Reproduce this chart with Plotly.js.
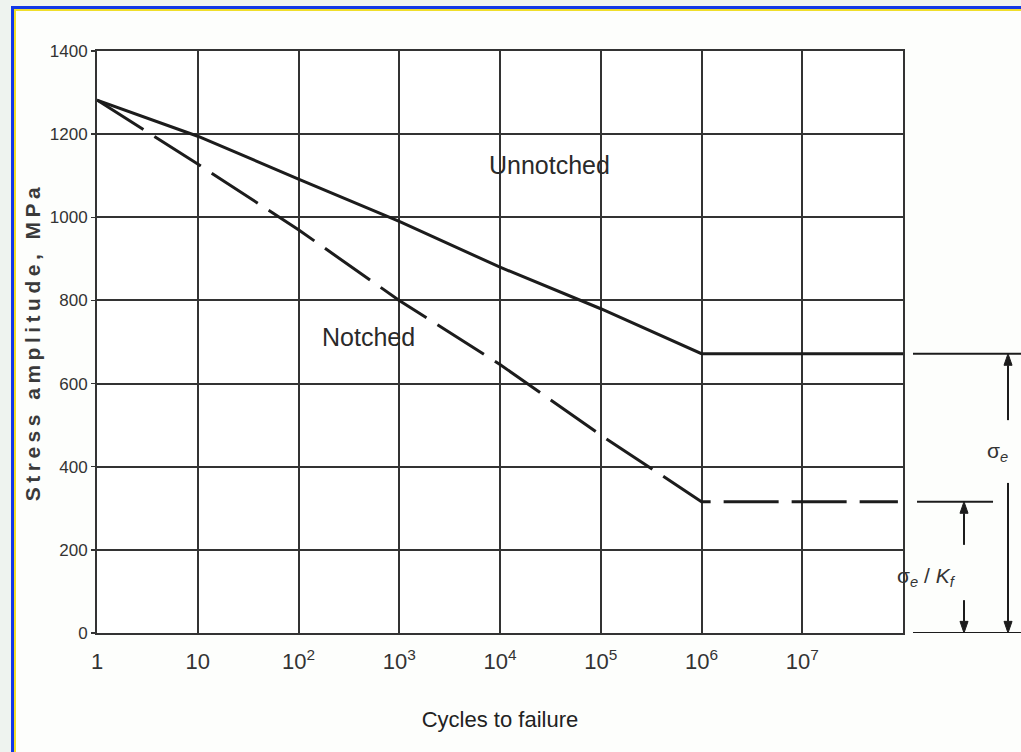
<!DOCTYPE html>
<html><head><meta charset="utf-8">
<script src="https://cdn.plot.ly/plotly-3.0.1.min.js"></script>
<style>
html,body{margin:0;padding:0;background:#eef3ef;width:1021px;height:752px;overflow:hidden}
#frame{position:absolute;left:11px;top:6px;width:1030px;height:760px;border-left:3px solid #1238e6;border-top:3px solid #1238e6;background:#fdfefc;box-shadow:inset 2px 2px 0 #f0de2a;}
#chart{position:absolute;left:0;top:0;width:1021px;height:752px}
.ytitle{letter-spacing:4.5px}
</style></head>
<body><div id="frame"></div><div id="chart"></div>
<script>
// Data
const unnotchedCycles = [1, 10, 100, 1e3, 1e4, 1e5, 1e6, 1e8];
const unnotchedStress = [1282, 1195, 1092, 990, 880, 780, 672, 672];
const notchedCycles = [1, 10, 100, 1e3, 1e4, 1e5, 1e6, 8.9e7];
const notchedStress = [1282, 1128, 970, 800, 646, 476, 316, 316];
const xTickVals = [1, 10, 100, 1e3, 1e4, 1e5, 1e6, 1e7];
const xTickText = ['1', '10', '10<sup>2</sup>', '10<sup>3</sup>', '10<sup>4</sup>', '10<sup>5</sup>', '10<sup>6</sup>', '10<sup>7</sup>'];
const yTickVals = [0, 200, 400, 600, 800, 1000, 1200, 1400];

const sigmaE = unnotchedStress[6];
const sigmaEKf = notchedStress[6];

const FONT = 'Liberation Sans, Arial, sans-serif';
const INK = '#1c1c1c';
const GRID = '#333333';

const traces = [
  {x: unnotchedCycles, y: unnotchedStress, type: 'scatter', mode: 'lines',
   line: {color: INK, width: 3}, hoverinfo: 'skip', name: 'Unnotched'},
  {x: notchedCycles, y: notchedStress, type: 'scatter', mode: 'lines',
   line: {color: INK, width: 3, dash: '55px,13px'}, hoverinfo: 'skip', name: 'Notched'}
];

// arrow drawn as shapes: shaft + filled head (x in paper, y in data)
const HW = 0.005, HL = 28;
function arrowShapes(x, head, tail) {
  const up = tail < head;
  const base = up ? head - HL : head + HL;
  return [
    {type: 'line', xref: 'paper', yref: 'y', x0: x, x1: x, y0: tail, y1: base, line: {color: INK, width: 2}},
    {type: 'path', xref: 'paper', yref: 'y',
     path: `M ${x - HW},${base} L ${x + HW},${base} L ${x},${head} Z`,
     fillcolor: INK, line: {color: INK, width: 1}}
  ];
}

const layout = {
  width: 1021, height: 752,
  margin: {l: 97, r: 118, t: 51, b: 119},
  paper_bgcolor: 'rgba(0,0,0,0)',
  plot_bgcolor: '#ffffff',
  showlegend: false,
  font: {family: FONT, color: '#333'},
  xaxis: {
    type: 'log', range: [0, 8],
    tickvals: xTickVals, ticktext: xTickText,
    showgrid: true, gridcolor: GRID, gridwidth: 2,
    showline: true, mirror: true, linecolor: GRID, linewidth: 2,
    zeroline: false, ticks: '', ticklabelstandoff: 8,
    tickfont: {size: 22, color: '#333', family: FONT},
    title: {text: 'Cycles to failure', font: {size: 22, color: '#222', family: FONT}, standoff: 38}
  },
  yaxis: {
    range: [0, 1400], tickvals: yTickVals,
    showgrid: true, gridcolor: GRID, gridwidth: 2,
    showline: true, mirror: true, linecolor: GRID, linewidth: 2,
    zeroline: false, ticks: 'outside', ticklen: 4, tickwidth: 1.5, tickcolor: GRID,
    tickfont: {size: 17, color: '#333', family: FONT},
    title: {text: 'Stress amplitude, MPa', font: {size: 21, color: '#3a3a3a', family: FONT, weight: 700}, standoff: 3}
  },
  shapes: [
    {type: 'line', xref: 'paper', yref: 'y', x0: 1.0124, x1: 1.15, y0: sigmaE, y1: sigmaE, line: {color: INK, width: 2}},
    {type: 'line', xref: 'paper', yref: 'y', x0: 1.0174, x1: 1.1117, y0: sigmaEKf, y1: sigmaEKf, line: {color: INK, width: 2}},
    {type: 'line', xref: 'paper', yref: 'y', x0: 1.0124, x1: 1.15, y0: 0, y1: 0, line: {color: INK, width: 2}},
    ...arrowShapes(1.1303, sigmaE, 512),
    ...arrowShapes(1.1303, 0, 361),
    ...arrowShapes(1.0757, sigmaEKf, 212),
    ...arrowShapes(1.0757, 0, 79)
  ],
  annotations: [
    {xref: 'paper', yref: 'y', x: 0.562, y: 1126, text: 'Unnotched', showarrow: false,
     font: {size: 25, color: '#2a2a2a', family: FONT}},
    {xref: 'paper', yref: 'y', x: 0.2767, y: 712, text: 'Notched', showarrow: false,
     font: {size: 25, color: '#2a2a2a', family: FONT}},
    {xref: 'paper', yref: 'y', x: 1.1328, y: 435, text: 'σ<sub><i>e</i></sub>', showarrow: false,
     font: {size: 21, color: '#333', family: FONT}},
    {xref: 'paper', yref: 'y', x: 1.0682, y: 135, text: 'σ<sub><i>e</i></sub> / <i>K</i><sub><i>f</i></sub>', showarrow: false,
     font: {size: 21, color: '#333', family: FONT}}
  ]
};

Plotly.newPlot('chart', traces, layout, {staticPlot: true, displayModeBar: false});
</script>
</body></html>
